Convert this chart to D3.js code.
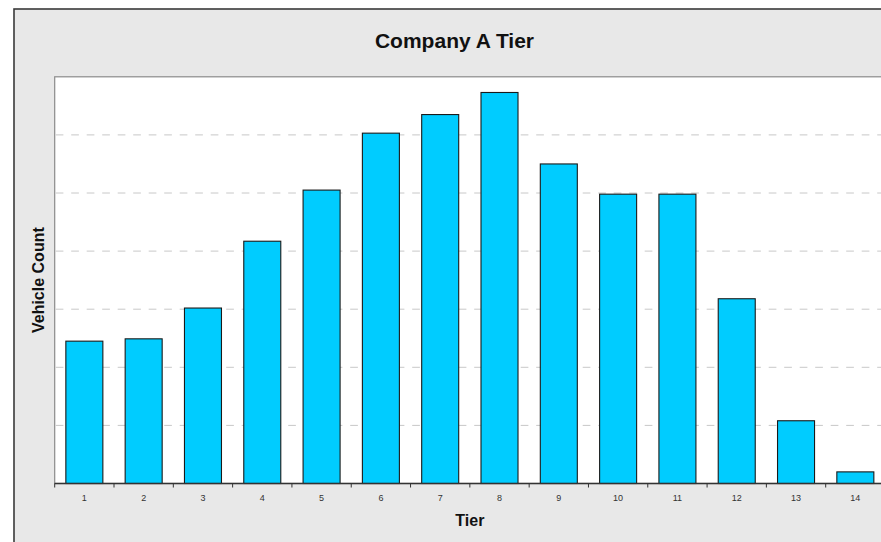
<!DOCTYPE html>
<html>
<head>
<meta charset="utf-8">
<script src="https://cdn.jsdelivr.net/npm/d3@7"></script>
<style>
  body { margin: 0; background: #fff; }
  svg { display: block; font-family: Arial, "Liberation Sans", sans-serif; }
</style>
</head>
<body>
<div id="svg-container"></div>
<script>
// Chart data
const tiers = ["1", "2", "3", "4", "5", "6", "7", "8", "9", "10", "11", "12", "13", "14"];
const vehicleCounts = [245, 249, 302, 417, 505, 603, 635, 673, 550, 498, 498, 318, 108, 20];
const gridValues = [100, 200, 300, 400, 500, 600];

const width = 881, height = 542;
const plot = { left: 54.7, right: 885, top: 76.8, bottom: 483.5 };

const svg = d3.select("#svg-container")
    .append("svg")
    .attr("width", width)
    .attr("height", height);

// Outer gray frame
svg.append("rect")
    .attr("x", 14)
    .attr("y", 9)
    .attr("width", 890)
    .attr("height", 560)
    .attr("fill", "#e8e8e8")
    .attr("stroke", "#3a3a3a")
    .attr("stroke-width", 1.6);

// Plot area
svg.append("rect")
    .attr("x", plot.left)
    .attr("y", plot.top)
    .attr("width", plot.right - plot.left + 20)
    .attr("height", plot.bottom - plot.top)
    .attr("fill", "#fff")
    .attr("stroke", "#8a8a8a")
    .attr("stroke-width", 1.2);

// Scales
const x = d3.scaleBand()
    .domain(tiers)
    .range([plot.left, plot.right])
    .paddingInner(0.376)
    .paddingOuter(0.188);

const y = d3.scaleLinear()
    .domain([0, 700])
    .range([plot.bottom, plot.top]);

// Dashed gridlines
svg.append("g")
    .selectAll("line")
    .data(gridValues)
    .enter()
    .append("line")
    .attr("x1", plot.left + 1)
    .attr("x2", width)
    .attr("y1", d => y(d))
    .attr("y2", d => y(d))
    .attr("stroke", "#c8c8c8")
    .attr("stroke-width", 1)
    .attr("stroke-dasharray", "7.7,7.8");

// Bars
svg.append("g")
    .selectAll("rect")
    .data(tiers)
    .enter()
    .append("rect")
    .attr("x", d => x(d))
    .attr("y", (d, i) => y(vehicleCounts[i]))
    .attr("width", x.bandwidth())
    .attr("height", (d, i) => y(0) - y(vehicleCounts[i]))
    .attr("fill", "#00ccff")
    .attr("stroke", "#1a1a1a")
    .attr("stroke-width", 1.1);

// X axis: labels from the band scale, ticks at band boundaries
const xAxis = svg.append("g")
    .attr("transform", `translate(0, ${plot.bottom})`)
    .call(d3.axisBottom(x).tickSize(0).tickPadding(11));

xAxis.select(".domain")
    .attr("stroke", "#333")
    .attr("stroke-width", 1.3)
    .attr("d", `M${plot.left},0H${width}`);

xAxis.selectAll("text")
    .attr("font-size", "9px")
    .attr("font-family", "Arial, sans-serif")
    .attr("fill", "#333");

const boundaryOffset = x.step() * x.paddingInner() / 2;
xAxis.selectAll(".boundary")
    .data(tiers)
    .enter()
    .append("line")
    .attr("class", "boundary")
    .attr("x1", d => x(d) - boundaryOffset)
    .attr("x2", d => x(d) - boundaryOffset)
    .attr("y1", 0)
    .attr("y2", 4)
    .attr("stroke", "#333")
    .attr("stroke-width", 1);

// Title
svg.append("text")
    .attr("x", 454.5)
    .attr("y", 47.5)
    .attr("text-anchor", "middle")
    .attr("font-size", "21px")
    .attr("font-weight", "bold")
    .attr("fill", "#111")
    .text("Company A Tier");

// Axis titles
svg.append("text")
    .attr("x", (plot.left + plot.right) / 2)
    .attr("y", 526)
    .attr("text-anchor", "middle")
    .attr("font-size", "16px")
    .attr("font-weight", "bold")
    .attr("fill", "#111")
    .text("Tier");

svg.append("text")
    .attr("transform", `translate(43.5, ${(plot.top + plot.bottom) / 2}) rotate(-90)`)
    .attr("text-anchor", "middle")
    .attr("font-size", "16px")
    .attr("font-weight", "bold")
    .attr("fill", "#111")
    .text("Vehicle Count");
</script>
</body>
</html>
